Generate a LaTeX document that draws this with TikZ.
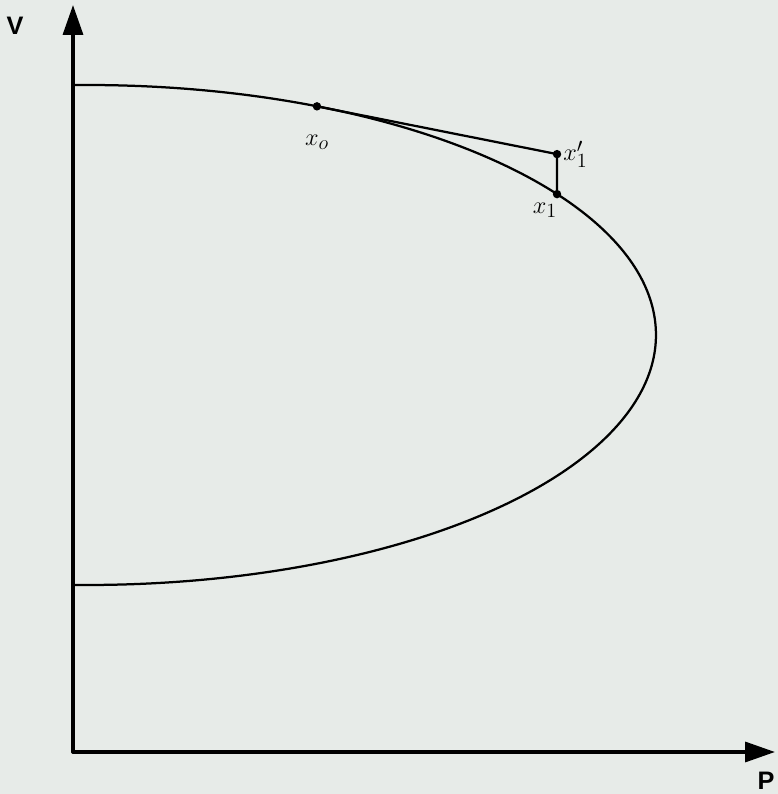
\documentclass[tikz,border=0pt]{standalone}
\usepackage{fontspec}
\usepackage{tikz}
\usetikzlibrary{arrows.meta,calc}
\newfontfamily\axisfont{Liberation Sans}
\definecolor{paper}{RGB}{231,235,232}

\begin{document}
\begin{tikzpicture}[>={Triangle[length=7.5mm,width=5mm]},line cap=round,
  axis/.style={line width=2.4pt,->},
  pvcurve/.style={line width=1.6pt},
  ptdot/.style={circle,fill=black,inner sep=0pt,minimum size=6pt},
  lbl/.style={font=\fontsize{19}{22}\selectfont},
  axlbl/.style={font=\axisfont\bfseries\fontsize{18}{21}\selectfont}]
\fill[paper] (-1.825,-1.05) rectangle (17.625,18.8);
\useasboundingbox (-1.825,-1.05) rectangle (17.625,18.8);
% axes
\coordinate (O) at (0,0);
\coordinate (vtip) at (0,18.675);
\coordinate (ptip) at (17.55,0);
\draw[axis] (O) -- (vtip);
\draw[axis] (O) -- (ptip);
\node[axlbl] (vlab) at (-1.45,18.15) {V};
\node[axlbl,anchor=east,inner sep=1pt] (plab) at (17.58,-0.72) {P};
% nose curve
\coordinate (C) at (0.35,10.425);
\draw[pvcurve] ($(C)+(91.4:14.225 and 6.25)$) arc[start angle=91.4,end angle=-91.4,x radius=14.225,y radius=6.25];
% points
\node[ptdot] (x0) at ($(C)+(66.16:14.225 and 6.25)$) {};
\node[ptdot] (x1) at ($(C)+(34.3:14.225 and 6.25)$) {};
\node[ptdot] (x1p) at ($(x1)+(0,1.0)$) {};
\draw[pvcurve] (x0.center) -- (x1p.center) -- (x1.center);
\node[lbl] (x0lab) at ($(x0)+(0,-0.9)$) {$x_o$};
\node[lbl,right=1pt] (x1plab) at (x1p) {$x_1'$};
\node[lbl] (x1lab) at ($(x1)+(-0.3,-0.4)$) {$x_1$};
\end{tikzpicture}
\end{document}
